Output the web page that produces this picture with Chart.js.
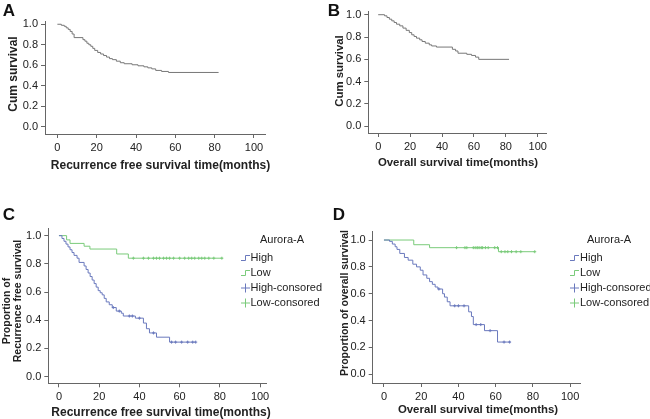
<!DOCTYPE html>
<html>
<head>
<meta charset="utf-8">
<title>Aurora-A survival</title>
<script src="https://cdn.jsdelivr.net/npm/chart.js@4.4.1/dist/chart.umd.min.js"></script>
<style>
  html, body { margin: 0; padding: 0; background: #fff; }
  #wrap { position: relative; width: 650px; height: 419px; overflow: hidden;
          font-family: 'Liberation Sans', Arial, sans-serif; color: #222; }
  #wrap canvas { position: absolute; left: 0; top: 0; }
  .txt { position: absolute; white-space: nowrap; transform: translate(-50%, -50%); line-height: 1; }
  .ttl { font-weight: bold; font-size: 12px; }
  .sm { font-size: 10.5px; }
  .md { font-size: 11.4px; }
  .rot { transform: translate(-50%, -50%) rotate(-90deg); }
  .letter { font-weight: bold; font-size: 17px; color: #111; }
  .leg { position: absolute; font-size: 11px; white-space: nowrap; line-height: 1; }
  .leg svg { position: absolute; left: 0; top: -4px; }
  .leg span { position: absolute; left: 10px; top: -5px; }
</style>
</head>
<body>
<div id="wrap">
  <canvas id="chartA" width="650" height="419"></canvas>
  <canvas id="chartB" width="650" height="419"></canvas>
  <canvas id="chartC" width="650" height="419"></canvas>
  <canvas id="chartD" width="650" height="419"></canvas>

  <div class="txt letter" style="left:9px; top:9.5px;">A</div>
  <div class="txt ttl rot" style="left:13px; top:74px;">Cum survival</div>
  <div class="txt ttl" style="left:160.5px; top:165px;">Recurrence free survival time(months)</div>

  <div class="txt letter" style="left:334px; top:9.5px;">B</div>
  <div class="txt ttl md rot" style="left:340px; top:70.5px;">Cum survival</div>
  <div class="txt ttl md" style="left:458px; top:163px;">Overall survival time(months)</div>

  <div class="txt letter" style="left:9px; top:213.5px;">C</div>
  <div class="txt ttl sm rot" style="left:5.5px; top:311px;">Proportion of</div>
  <div class="txt ttl sm rot" style="left:17px; top:301px;">Recurrence free survival</div>
  <div class="txt ttl" style="left:161px; top:412px;">Recurrence free survival time(months)</div>

  <div class="txt letter" style="left:339px; top:213.5px;">D</div>
  <div class="txt ttl sm rot" style="left:343.5px; top:303px;">Proportion of overall survival</div>
  <div class="txt ttl md" style="left:478px; top:410px;">Overall survival time(months)</div>

  <div id="legC"></div>
  <div id="legD"></div>
</div>

<script>
// ---- tick labels ----
const xTickValues = [0, 20, 40, 60, 80, 100];
const yTickValues = [0, 0.2, 0.4, 0.6, 0.8, 1.0];

// ---- A: recurrence free survival, all patients ----
const rfsTimes = [0, 2, 3.5, 4.5, 5.5, 6.5, 7.5, 8.5, 13, 14, 15, 16, 17, 18, 19, 20.5, 22, 23.5, 25, 26.5, 28, 30, 32, 34, 38, 41, 44, 46, 48, 50, 53, 56.5, 82];
const rfsSurv  = [1, 0.99, 0.98, 0.965, 0.95, 0.93, 0.905, 0.87, 0.85, 0.835, 0.815, 0.8, 0.785, 0.765, 0.745, 0.725, 0.71, 0.695, 0.68, 0.665, 0.655, 0.64, 0.625, 0.615, 0.605, 0.595, 0.585, 0.575, 0.565, 0.55, 0.54, 0.53, 0.53];

// ---- B: overall survival, all patients ----
const osTimes = [0, 4, 5.5, 7, 8.5, 10, 11.5, 13.5, 15.5, 17.5, 19.5, 21, 22.5, 24, 26, 27.5, 29.5, 32, 33.5, 36.5, 46.5, 48.5, 50, 55.5, 58.5, 61, 63, 82];
const osSurv  = [1, 0.99, 0.975, 0.96, 0.945, 0.93, 0.915, 0.9, 0.88, 0.86, 0.84, 0.82, 0.805, 0.79, 0.775, 0.76, 0.745, 0.73, 0.72, 0.71, 0.69, 0.675, 0.655, 0.645, 0.635, 0.62, 0.6, 0.6];

// ---- C: recurrence free survival by Aurora-A ----
const rfsHighTimes = [0, 1.5, 2.5, 3.5, 4.5, 5.5, 6.5, 7.5, 9, 10, 12.5, 13.5, 14.5, 15.5, 16.5, 17.5, 18.5, 19.5, 20.5, 21.5, 22.5, 23.5, 25, 26.5, 28.5, 31, 32, 38, 42, 43.5, 45, 48.5, 55, 68];
const rfsHighSurv  = [1, 0.98, 0.96, 0.94, 0.92, 0.9, 0.88, 0.86, 0.84, 0.81, 0.785, 0.76, 0.735, 0.71, 0.685, 0.66, 0.635, 0.61, 0.595, 0.58, 0.555, 0.53, 0.51, 0.49, 0.465, 0.45, 0.43, 0.415, 0.38, 0.34, 0.31, 0.28, 0.245, 0.245];
const rfsHighCensTimes = [27, 30, 35, 36.5, 40, 47, 56, 58, 61, 64, 66.5, 68];
const rfsHighCensSurv  = [0.49, 0.465, 0.43, 0.43, 0.415, 0.31, 0.245, 0.245, 0.245, 0.245, 0.245, 0.245];
const rfsLowTimes = [0, 3.8, 5.5, 12.5, 15.4, 28.7, 34.5, 81.4];
const rfsLowSurv  = [1, 0.97, 0.945, 0.925, 0.905, 0.87, 0.84, 0.84];
const rfsLowCensTimes = [37, 42, 44.5, 47, 48.5, 50, 52, 53.5, 55, 57, 60, 62.5, 64.5, 66, 67.5, 69.5, 71, 72.5, 74.5, 77, 81];
const rfsLowCensSurv  = [0.84, 0.84, 0.84, 0.84, 0.84, 0.84, 0.84, 0.84, 0.84, 0.84, 0.84, 0.84, 0.84, 0.84, 0.84, 0.84, 0.84, 0.84, 0.84, 0.84, 0.84];

// ---- D: overall survival by Aurora-A ----
const osHighTimes = [0, 3, 4.5, 6, 7, 8.5, 11, 13, 15.5, 17.5, 19.5, 21, 23, 24.5, 26, 27.5, 29, 31.5, 32.5, 34, 35.5, 45.5, 47, 48, 54, 61, 68];
const osHighSurv  = [1, 0.99, 0.97, 0.95, 0.93, 0.9, 0.87, 0.85, 0.82, 0.8, 0.775, 0.74, 0.715, 0.69, 0.67, 0.65, 0.635, 0.6, 0.575, 0.54, 0.51, 0.465, 0.43, 0.37, 0.325, 0.24, 0.24];
const osHighCensTimes = [29.5, 38, 40, 43, 49.5, 52, 57, 64.5, 67.5];
const osHighCensSurv  = [0.635, 0.51, 0.51, 0.51, 0.37, 0.37, 0.325, 0.24, 0.24];
const osLowTimes = [0, 16, 24.5, 61.5, 81];
const osLowSurv  = [1, 0.965, 0.943, 0.913, 0.913];
const osLowCensTimes = [39, 43.5, 44.5, 48, 49, 50, 50.5, 51.5, 52.5, 53, 54.5, 56, 59.5, 61, 63, 65, 66.5, 68.5, 71, 73.5, 81];
const osLowCensSurv  = [0.943, 0.943, 0.943, 0.943, 0.943, 0.943, 0.943, 0.943, 0.943, 0.943, 0.943, 0.943, 0.943, 0.943, 0.913, 0.913, 0.913, 0.913, 0.913, 0.913, 0.913];

const GRAY = '#777777';
const BLUE = '#6a79bd';
const GREEN = '#7acb7a';
const FONT = "'Liberation Sans', Arial, sans-serif";

function toPts(ts, ss) {
  return ts.map((t, i) => ({ x: t, y: ss[i] }));
}

function curve(ts, ss, color) {
  return {
    type: 'line', data: toPts(ts, ss), borderColor: color, borderWidth: 1,
    pointRadius: 0, stepped: 'before', fill: false
  };
}

// censored cases: small cross marks
function censor(ts, ss, color) {
  return {
    type: 'scatter', data: toPts(ts, ss), borderColor: color, backgroundColor: color,
    pointStyle: 'cross', pointRadius: 1.5, borderWidth: 1
  };
}

// box = pixel edges of the plot area, xr/yr = axis ranges
function makePanel(id, box, xr, yr, datasets) {
  const yW = 40, xH = 28;
  return new Chart(document.getElementById(id), {
    type: 'line',
    data: { datasets: datasets },
    options: {
      responsive: false,
      animation: false,
      events: [],
      layout: {
        padding: { left: box.l - yW, top: box.t, right: 650 - box.r, bottom: 419 - box.b - xH }
      },
      plugins: { legend: { display: false }, tooltip: { enabled: false } },
      scales: {
        x: {
          type: 'linear', min: xr[0], max: xr[1],
          afterBuildTicks: s => { s.ticks = xTickValues.map(v => ({ value: v })); },
          afterFit: s => { s.height = xH; },
          grid: { drawOnChartArea: false, tickLength: 4, color: '#666' },
          border: { color: '#666' },
          ticks: { autoSkip: false, maxRotation: 0, padding: 3, color: '#222',
                   font: { family: FONT, size: 11 }, callback: v => String(v) }
        },
        y: {
          type: 'linear', min: yr[0], max: yr[1],
          afterBuildTicks: s => { s.ticks = yTickValues.map(v => ({ value: v })); },
          afterFit: s => { s.width = yW; },
          grid: { drawOnChartArea: false, tickLength: 4, color: '#666' },
          border: { color: '#666' },
          ticks: { autoSkip: false, padding: 3, color: '#222',
                   font: { family: FONT, size: 11 }, callback: v => Number(v).toFixed(1) }
        }
      }
    }
  });
}

makePanel('chartA', { l: 45, r: 265, t: 21.7, b: 134 }, [-6.3, 105.6], [-0.07, 1.025],
  [curve(rfsTimes, rfsSurv, GRAY)]);

makePanel('chartB', { l: 368.3, r: 546.7, t: 11.7, b: 133 }, [-6.2, 105.6], [-0.06, 1.027],
  [curve(osTimes, osSurv, GRAY)]);

makePanel('chartC', { l: 48.3, r: 266.7, t: 228.3, b: 383.3 }, [-5.3, 103.3], [-0.047, 1.052], [
  curve(rfsHighTimes, rfsHighSurv, BLUE),
  curve(rfsLowTimes, rfsLowSurv, GREEN),
  censor(rfsHighCensTimes, rfsHighCensSurv, BLUE),
  censor(rfsLowCensTimes, rfsLowCensSurv, GREEN)
]);

makePanel('chartD', { l: 372.7, r: 580, t: 231.7, b: 383 }, [-6.05, 105.3], [-0.065, 1.062], [
  curve(osHighTimes, osHighSurv, BLUE),
  curve(osLowTimes, osLowSurv, GREEN),
  censor(osHighCensTimes, osHighCensSurv, BLUE),
  censor(osLowCensTimes, osLowCensSurv, GREEN)
]);

// ---- legends (html) ----
const legendLabels = ['High', 'Low', 'High-consored', 'Low-consored'];
const legendColors = [BLUE, GREEN, BLUE, GREEN];
const legendStep = [true, true, false, false];

function buildLegend(id, titleX, iconX) {
  const host = document.getElementById(id);
  let html = `<div class="txt" style="left:${titleX}px; top:238.5px; font-size:11px;">Aurora-A</div>`;
  const rowY = [256.7, 271.7, 286.7, 301.5];
  legendLabels.forEach((lab, i) => {
    const c = legendColors[i];
    const icon = legendStep[i]
      ? `<path d="M0 7.5 H4.5 V2.5 H9" fill="none" stroke="${c}" stroke-width="1"/>`
      : `<path d="M0 5 H9 M4.5 0.5 V9.5" fill="none" stroke="${c}" stroke-width="1"/>`;
    html += `<div class="leg" style="left:${iconX}px; top:${rowY[i]}px;">
      <svg width="10" height="10" viewBox="0 0 10 10">${icon}</svg><span>${lab}</span></div>`;
  });
  host.innerHTML = html;
}

buildLegend('legC', 282, 240.5);
buildLegend('legD', 609, 570);
</script>
</body>
</html>
